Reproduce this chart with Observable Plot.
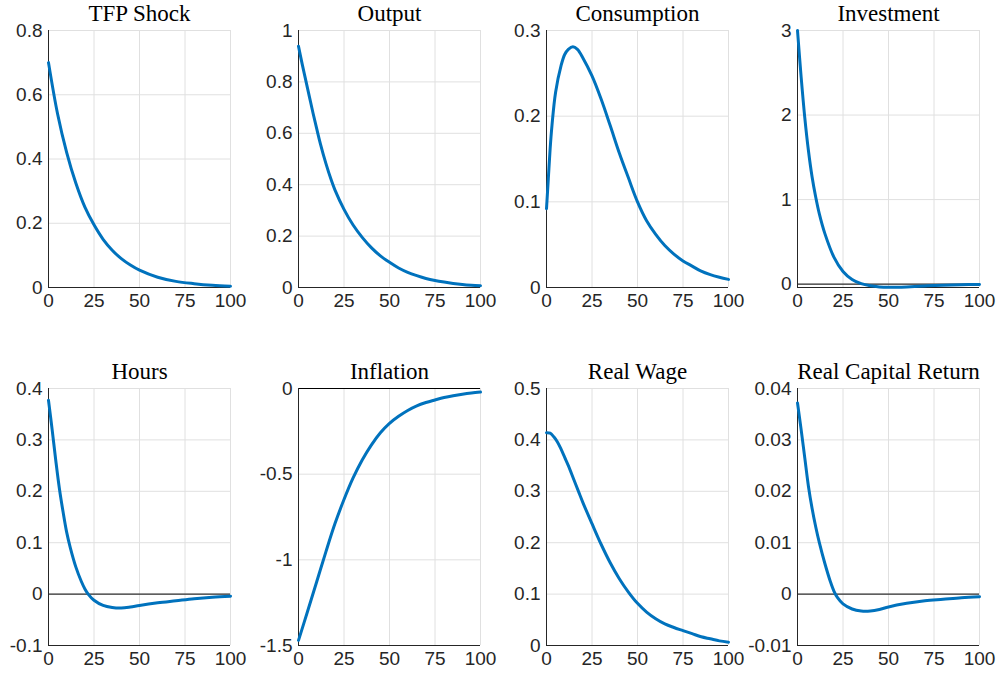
<!DOCTYPE html>
<html>
<head>
<meta charset="utf-8">
<script src="https://cdn.jsdelivr.net/npm/d3@7"></script>
<script src="https://cdn.jsdelivr.net/npm/@observablehq/plot@0.6"></script>
<style>
  html, body { margin: 0; padding: 0; background: #fff; overflow: hidden; }
  #chart { position: relative; width: 997px; height: 676px; }
  #chart > svg { position: absolute; overflow: visible; }
</style>
</head>
<body>
<div id="chart"></div>
<script>
// ---- data ----
const titles = ["TFP Shock", "Output", "Consumption", "Investment", "Hours", "Inflation", "Real Wage", "Real Capital Return"];
const xTicks = [0, 25, 50, 75, 100];

const tfpT = [0,5,10,15,20,25,30,35,40,45,50,60,70,80,90,100];
const tfpV = [0.70,0.54,0.42,0.325,0.25,0.195,0.15,0.116,0.09,0.07,0.054,0.032,0.019,0.012,0.007,0.004];

const outT = [0,2,4,6,8,10,12,15,18,20,25,30,35,40,45,50,55,60,65,70,75,80,85,90,95,100];
const outV = [0.939,0.87,0.806,0.742,0.678,0.618,0.56,0.484,0.418,0.38,0.304,0.243,0.195,0.155,0.123,0.098,0.076,0.059,0.046,0.035,0.027,0.021,0.016,0.012,0.009,0.0067];

const consT = [0,1,2,3,5,8,10,12,14.5,17,20,25,30,35,40,45,50,55,60,65,70,75,80,85,90,95,100];
const consV = [0.092,0.127,0.162,0.189,0.228,0.259,0.272,0.278,0.281,0.278,0.268,0.247,0.220,0.189,0.157,0.128,0.100,0.078,0.062,0.049,0.039,0.031,0.025,0.019,0.015,0.012,0.0095];

const invT = [0,2,4,6,8,10,12,15,20,25,30,35,40,45,50,55,60,70,80,90,100];
const invV = [3.0,2.45,1.97,1.58,1.27,1.03,0.83,0.6,0.32,0.15,0.055,0.005,-0.02,-0.033,-0.038,-0.037,-0.033,-0.022,-0.013,-0.007,-0.004];

const hrsT = [0,2,4,6,8,10,12,15,18,20,22,25,30,35,40,45,50,60,70,80,90,100];
const hrsV = [0.377,0.32,0.26,0.205,0.16,0.12,0.09,0.053,0.025,0.01,-0.001,-0.012,-0.022,-0.026,-0.027,-0.025,-0.022,-0.017,-0.013,-0.009,-0.006,-0.004];

const infT = [0,5,10,15,20,25,30,35,40,45,50,55,60,65,70,75,80,85,90,95,100];
const infV = [-1.47,-1.30,-1.128,-0.955,-0.79,-0.648,-0.522,-0.417,-0.33,-0.258,-0.203,-0.162,-0.128,-0.101,-0.082,-0.067,-0.053,-0.042,-0.033,-0.026,-0.021];

const rwT = [0,2,4,6,8,10,12,15,18,20,25,30,35,40,45,50,55,60,65,70,75,80,85,90,95,100];
const rwV = [0.414,0.413,0.406,0.396,0.382,0.366,0.35,0.323,0.296,0.278,0.237,0.197,0.161,0.13,0.104,0.082,0.065,0.052,0.042,0.035,0.029,0.023,0.017,0.013,0.009,0.0065];

const rcrT = [0,2,4,6,8,10,12,15,18,20,22,25,30,35,40,45,50,60,70,80,90,100];
const rcrV = [0.0372,0.032,0.0265,0.021,0.0167,0.0131,0.0100,0.0060,0.0025,0.0006,-0.0007,-0.0019,-0.0029,-0.0033,-0.0033,-0.003,-0.0025,-0.0018,-0.0013,-0.001,-0.0007,-0.0005];

const yDomains = [[0,0.8],[0,1],[0,0.3],[-0.04,3],[-0.1,0.4],[-1.5,0],[0,0.5],[-0.01,0.04]];
const yTicks = [
  [0,0.2,0.4,0.6,0.8],
  [0,0.2,0.4,0.6,0.8,1],
  [0,0.1,0.2,0.3],
  [0,1,2,3],
  [-0.1,0,0.1,0.2,0.3,0.4],
  [-1.5,-1,-0.5,0],
  [0,0.1,0.2,0.3,0.4,0.5],
  [-0.01,0,0.01,0.02,0.03,0.04]
];
const seriesT = [tfpT, outT, consT, invT, hrsT, infT, rwT, rcrT];
const seriesV = [tfpV, outV, consV, invV, hrsV, infV, rwV, rcrV];

// ---- layout ----
const colLeft = [48, 298, 546, 797];
const rowTop = [30, 388];
const innerW = 182, innerH = 257;
const mL = 48, mR = 18, mT = 30, mB = 30;

const chart = document.getElementById("chart");
const sans = "Liberation Sans, Arial, Helvetica, sans-serif";
const serif = "Liberation Serif, Times New Roman, serif";

titles.forEach((title, i) => {
  const col = i % 4, row = Math.floor(i / 4);
  const data = seriesT[i].map((t, k) => ({t, v: seriesV[i][k]}));
  const [y0, y1] = yDomains[i];
  const svg = Plot.plot({
    width: mL + innerW + mR,
    height: mT + innerH + mB,
    marginLeft: mL, marginRight: mR, marginTop: mT, marginBottom: mB,
    style: {background: "transparent", overflow: "visible", color: "#262626"},
    x: {domain: [0, 100]},
    y: {domain: [y0, y1]},
    marks: [
      Plot.gridX(xTicks, {stroke: "#e0e0e0", strokeOpacity: 1, strokeWidth: 1}),
      Plot.gridY(yTicks[i], {stroke: "#e0e0e0", strokeOpacity: 1, strokeWidth: 1}),
      Plot.ruleY([0], {stroke: "#000", strokeWidth: 1}),
      Plot.ruleX([0], {stroke: "#262626", strokeWidth: 1}),
      Plot.ruleY([y0], {stroke: "#262626", strokeWidth: 1}),
      Plot.line(data, {x: "t", y: "v", stroke: "#0072BD", strokeWidth: 3, curve: "catmull-rom"}),
      Plot.axisX({ticks: xTicks, tickSize: 0, tickPadding: 6, fontSize: 19, fontFamily: sans, tickFormat: d => String(d), label: null}),
      Plot.axisY({ticks: yTicks[i], tickSize: 0, tickPadding: 6, fontSize: 19, fontFamily: sans, tickFormat: d => String(d), label: null}),
      Plot.text([title], {frameAnchor: "top", dy: -10, lineAnchor: "bottom", text: d => d, fontSize: 23, fontFamily: serif, fill: "#000"})
    ]
  });
  svg.style.left = (colLeft[col] - mL) + "px";
  svg.style.top = (rowTop[row] - mT) + "px";
  chart.appendChild(svg);
});
</script>
</body>
</html>
